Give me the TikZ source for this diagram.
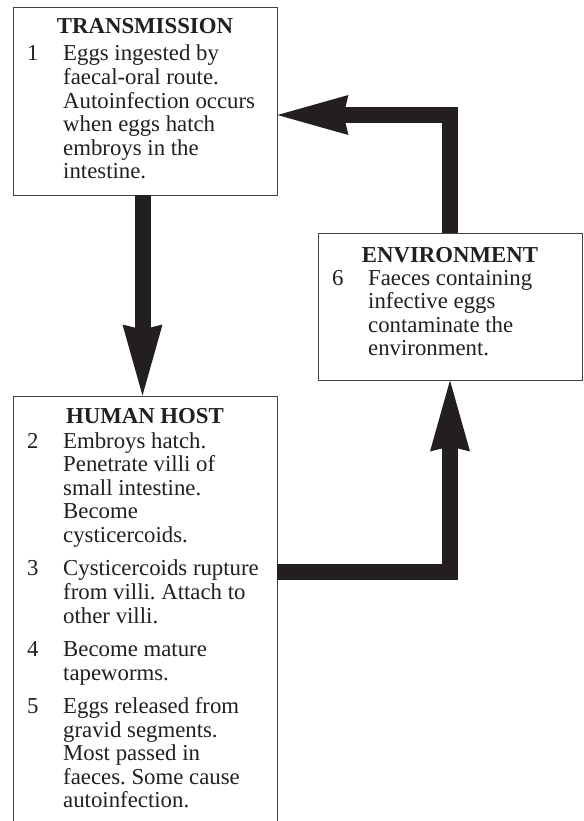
\documentclass[tikz,border=0pt]{standalone}
\usepackage{fontspec}
\setmainfont{Liberation Serif}
\usetikzlibrary{arrows.meta}
\definecolor{ink}{RGB}{35,31,32}
\newcommand\lcitem[2]{\hangindent=36pt\hangafter=1\noindent\makebox[36pt][l]{#1}#2\par}
\newcommand\lcbody[1]{\vtop{\hsize=250pt\parindent=0pt\parskip=0pt
  \rightskip=0pt plus 1fil\frenchspacing
  \fontsize{22.8}{23.6}\selectfont #1}}
\begin{document}
\begin{tikzpicture}[x=1pt,y=-1pt,
  box/.style={draw=ink!85, line width=0.9pt, rectangle, inner sep=0pt, fill=white},
  ttl/.style={font=\fontsize{22.8}{23.6}\selectfont\bfseries, text=ink, inner sep=0pt, anchor=base},
  body/.style={text=ink, inner sep=0pt, anchor=base west},
  conn/.style={draw=ink, line width=16pt, line join=miter},
  tipA/.style={-{Stealth[length=71pt,width=40pt,inset=5pt,line width=0pt]}}
]
\useasboundingbox (0,0) rectangle (583,821);
\clip (0,0) rectangle (583,821);
\fill[white] (0,0) rectangle (583,821);

% boxes
\node[box, minimum width=264pt, minimum height=188pt] (trans) at (145,101) {};
\node[box, minimum width=264pt, minimum height=147pt] (env) at (450,306.5) {};
\node[box, minimum width=264pt, minimum height=460pt] (host) at (145,626) {};

% connector points
\coordinate (tin) at (trans.east |- 0,115);
\coordinate (hout) at (host.east |- 0,572);
\coordinate (tout) at ([xshift=-2.5pt]trans.south);
\coordinate (hin) at (tout |- host.north);

% connectors
\draw[conn, tipA] (tout) -- (hin);
\draw[conn, tipA] (env.north) |- (tin);
\draw[conn, tipA] (hout) -| (env.south);

% transmission text
\node[ttl] (trans-t) at (145,34) {TRANSMISSION};
\node[body] (trans-b) at (27,61) {\lcbody{%
  \lcitem{1}{Eggs ingested by\newline faecal-oral route.\newline Autoinfection occurs\newline when eggs hatch\newline embroys in the\newline intestine.}}};

% environment text
\node[ttl] (env-t) at (450,262) {ENVIRONMENT};
\node[body] (env-b) at (332,285) {\lcbody{%
  \lcitem{6}{Faeces containing\newline infective eggs\newline contaminate the\newline environment.}}};

% human host text
\node[ttl] (host-t) at (145,423) {HUMAN HOST};
\node[body] (host-b) at (27,448) {\lcbody{%
  \lcitem{2}{Embroys hatch.\newline Penetrate villi of\newline small intestine.\newline Become\newline cysticercoids.}
  \vskip 9.8pt
  \lcitem{3}{Cysticercoids rupture\newline from villi. Attach to\newline other villi.}
  \vskip 9.8pt
  \lcitem{4}{Become mature\newline tapeworms.}
  \vskip 9.8pt
  \lcitem{5}{Eggs released from\newline gravid segments.\newline Most passed in\newline faeces. Some cause\newline autoinfection.}}};
\end{tikzpicture}
\end{document}
